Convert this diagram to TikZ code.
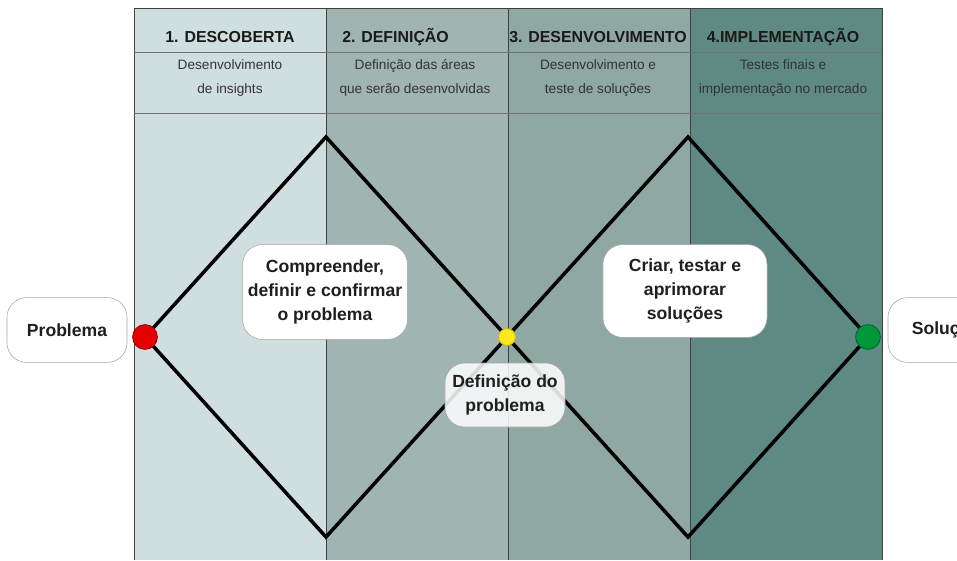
\documentclass[tikz,border=0pt]{standalone}
\usepackage{fontspec}
\setmainfont{Liberation Sans}
\usetikzlibrary{positioning}

\definecolor{faseA}{HTML}{CFDFDF}
\definecolor{faseB}{HTML}{A0B4B2}
\definecolor{faseC}{HTML}{8FA8A3}
\definecolor{faseD}{HTML}{5F8A83}
\definecolor{vermelho}{HTML}{E50000}
\definecolor{amarelo}{HTML}{FFE81A}
\definecolor{verde}{HTML}{00963A}

\begin{document}
\begin{tikzpicture}[x=0.025cm,y=-0.025cm,
        titulo/.style={font=\fontsize{11.3}{13}\selectfont\bfseries,text=black!90,inner sep=0pt},
        subtitulo/.style={font=\fontsize{9.7}{17}\selectfont,text=black!80,align=center,inner sep=0pt},
        balao/.style={draw=black!35,fill=white,rounded corners=14pt,align=center,
            font=\fontsize{12.5}{17}\selectfont\bfseries,text=black!88,inner sep=0pt},
        ponto/.style={circle,line width=0.6pt,inner sep=0pt}]
    \useasboundingbox (0,0) rectangle (957,560);
    % colunas
    \fill[faseA] (134,8) rectangle (326,560);
    \fill[faseB] (326,8) rectangle (508,560);
    \fill[faseC] (508,8) rectangle (690,560);
    \fill[faseD] (690,8) rectangle (882,560);
    \draw[black!75] (134,560) -- (134,8) -- (882,8) -- (882,560);
    \foreach \x in {326,508,690}
        \draw[black!75] (\x,8) -- (\x,560);
    \draw[black!55] (134,52) -- (882,52);
    \draw[black!55] (134,113) -- (882,113);
    % cabecalhos
    \node[titulo] (fase1) at (230,37) {1. DESCOBERTA};
    \node[titulo,anchor=west] (fase2) at (342,37) {2. DEFINIÇÃO};
    \node[titulo] (fase3) at (598,37) {3. DESENVOLVIMENTO};
    \node[titulo] (fase4) at (783,37) {4.IMPLEMENTAÇÃO};
    \node[subtitulo] (desc1) at (230,78) {Desenvolvimento\\de insights};
    \node[subtitulo] (desc2) at (415,78) {Definição das áreas\\que serão desenvolvidas};
    \node[subtitulo] (desc3) at (598,78) {Desenvolvimento e\\teste de soluções};
    \node[subtitulo] (desc4) at (783,78) {Testes finais e\\implementação no mercado};
    % losangos
    \coordinate (inicio) at (145,337);
    \coordinate (topoA) at (326,137);
    \coordinate (baseA) at (326,537);
    \coordinate (meio) at (507,337);
    \coordinate (topoB) at (688,137);
    \coordinate (baseB) at (688,537);
    \coordinate (fim) at (868,337);
    \draw[line width=2.5pt,line join=miter] (inicio) -- (topoA) -- (meio) -- (baseA) -- cycle;
    \draw[line width=2.5pt,line join=miter] (meio) -- (topoB) -- (fim) -- (baseB) -- cycle;
    \node[ponto,fill=vermelho,draw=vermelho!70!black,minimum size=0.62cm] (pontoA) at (inicio) {};
    \node[ponto,fill=amarelo,draw=amarelo!80!black,minimum size=0.42cm] (pontoB) at (meio) {};
    \node[ponto,fill=verde,draw=verde!70!black,minimum size=0.62cm] (pontoC) at (fim) {};
    % baloes
    \node[balao,minimum width=3cm,minimum height=1.62cm] (problema) at (67,330) {Problema};
    \node[balao,minimum width=2.9cm,minimum height=1.62cm] (solucao) at (946,330) {Solução};
    \node[balao,minimum width=4.12cm,minimum height=2.37cm] (compreender) at (325,292) {Compreender,\\definir e confirmar\\o problema};
    \node[balao,minimum width=4.1cm,minimum height=2.32cm] (criar) at (685,291) {Criar, testar e\\aprimorar\\soluções};
    \node[balao,fill opacity=0.85,text opacity=1,minimum width=3cm,minimum height=1.6cm] (definicao) at (505,395) {Definição do\\problema};
\end{tikzpicture}
\end{document}
